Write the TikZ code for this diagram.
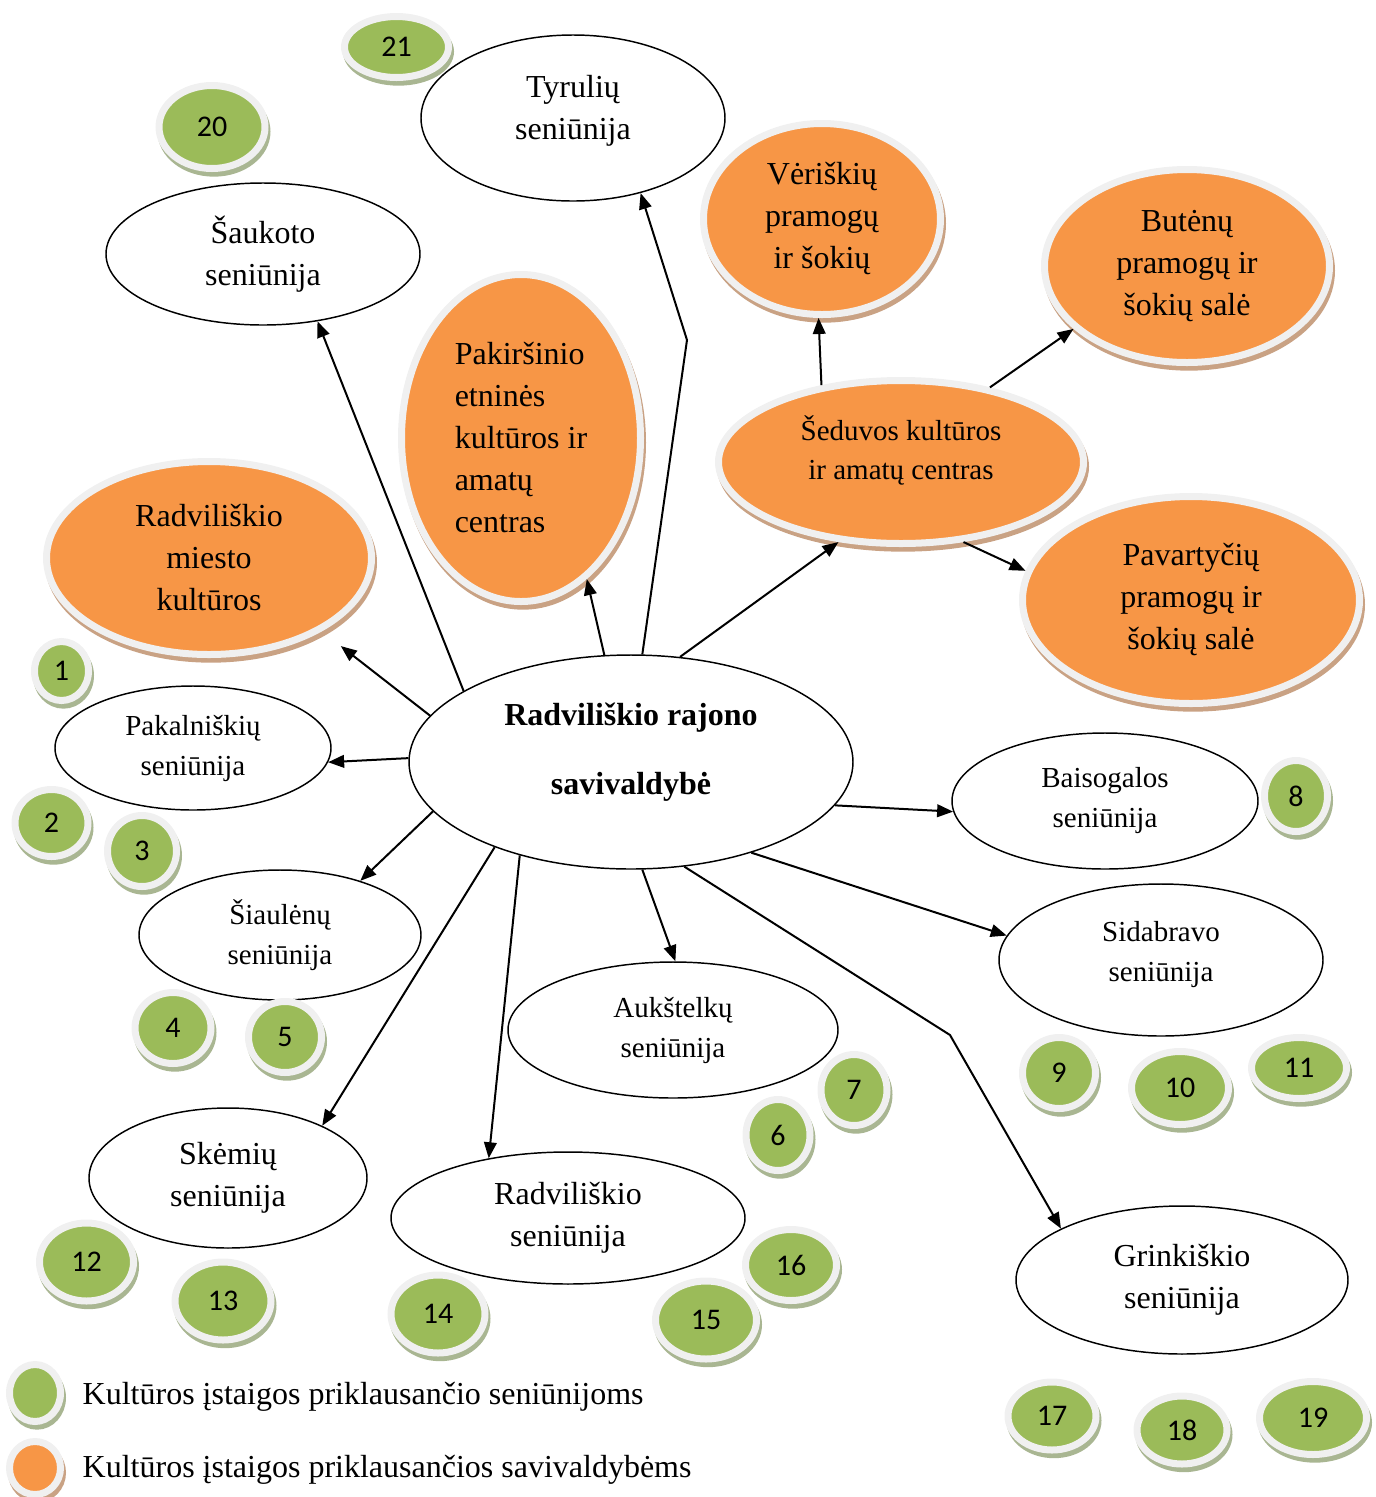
\documentclass[tikz,border=0pt]{standalone}
\usepackage{fontspec}
\setmainfont{Liberation Serif}
\newfontfamily\numfont{Carlito}
\usetikzlibrary{shapes.geometric,arrows.meta}
\definecolor{myorange}{HTML}{F79646}
\definecolor{mygreen}{HTML}{9BBB59}
\definecolor{ringgray}{HTML}{F0F0F0}
\definecolor{orshadow}{HTML}{C9A284}
\definecolor{grshadow}{HTML}{A9B692}
\tikzset{
  wr/.style 2 args={minimum width={#1*1.5pt}, minimum height={#2*1.5pt}},
  rr/.style 2 args={minimum width={(#1+3.5)*1.5pt}, minimum height={(#2+3.5)*1.5pt}},
  ringed/.style={draw=ringgray, line width=5.25pt,
    preaction={draw=#1, fill=#1, line width=5.25pt, transform canvas={xshift=1.5pt, yshift=-3.5pt}}},
  wellipse/.style={ellipse, draw=black, line width=1.1pt, fill=white, inner sep=0pt, align=center},
  oblob/.style={ellipse, inner sep=0pt, fill=myorange, ringed=orshadow, align=center},
  gblob/.style={ellipse, inner sep=0pt, fill=mygreen, ringed=grshadow, font={\numfont\fontsize{22.5}{26}\selectfont}},
  bigt/.style={font={\fontsize{24}{31.5}\selectfont}},
  smallt/.style={font={\fontsize{21.75}{30}\selectfont}},
  lbl/.style={align=center, inner sep=0pt},
  conn/.style={line width=1.5pt, -{Triangle[length=12pt,width=9.5pt]}},
}
\begin{document}
\begin{tikzpicture}[x=0.75pt,y=-0.75pt]
\useasboundingbox (0,0) rectangle (1376,1497);

% white ellipses
\node[wellipse, wr={152}{83}, label={[lbl, bigt, yshift=5.25pt]center:Tyrulių\\seniūnija}] (tyr) at (573,118) {};
\node[wellipse, wr={157}{71}, bigt] (sau) at (263,254) {Šaukoto\\seniūnija};
\node[wellipse, wr={138}{62}, smallt] (pak) at (193,748) {Pakalniškių\\seniūnija};
\node[wellipse, wr={141}{65}, smallt] (sia) at (280,935) {Šiaulėnų\\seniūnija};
\node[wellipse, wr={165}{68}, smallt] (auk) at (673,1030) {Aukštelkų\\seniūnija};
\node[wellipse, wr={139}{70}, bigt] (ske) at (228,1178) {Skėmių\\seniūnija};
\node[wellipse, wr={177}{66}, bigt] (rs) at (568,1218) {Radviliškio\\seniūnija};
\node[wellipse, wr={153}{68}, smallt] (bai) at (1105,801) {Baisogalos\\seniūnija};
\node[wellipse, wr={162}{76}, label={[lbl, smallt, yshift=4pt]center:Sidabravo\\seniūnija}] (sid) at (1161,960) {};
\node[wellipse, wr={166}{74}, bigt] (gri) at (1182,1280) {Grinkiškio\\seniūnija};
\node[wellipse, wr={222}{107}, label={[lbl, font={\bfseries\fontsize{24}{51.75}\selectfont}, yshift=7.5pt]center:Radviliškio rajono\\savivaldybė}] (c) at (631,762) {};

% orange ellipses
\node[oblob, rr={115}{92}, bigt] (ver) at (822,219) {Vėriškių\\pramogų\\ir šokių};
\node[oblob, rr={139}{93}, bigt] (but) at (1187,266) {Butėnų\\pramogų ir\\šokių salė};
\node[oblob, rr={179}{78}, label={[lbl, font={\fontsize{21.75}{29.25}\selectfont}, yshift=9pt]center:Šeduvos kultūros\\ir amatų centras}] (sed) at (901,462) {};
\node[oblob, rr={165}{100}, bigt] (pav) at (1191,600) {Pavartyčių\\pramogų ir\\šokių salė};
\node[oblob, rr={116}{160}, bigt, align=left] (pk) at (521,438) {Pakiršinio\\etninės\\kultūros ir\\amatų\\centras};
\node[oblob, rr={159}{93}, bigt] (rmk) at (209,558) {Radviliškio\\miesto\\kultūros};

% green circles
\node[gblob, rr={23.5}{26}] (g1) at (61.5,671) {1};
\node[gblob, rr={33}{30}] (g2) at (51.5,823) {2};
\node[gblob, rr={31}{32}] (g3) at (142,851) {3};
\node[gblob, rr={34.5}{32}] (g4) at (173,1028) {4};
\node[gblob, rr={33}{32}] (g5) at (285,1037) {5};
\node[gblob, rr={28.5}{32}] (g6) at (778,1135) {6};
\node[gblob, rr={29.5}{32}] (g7) at (854,1090) {7};
\node[gblob, rr={28}{32}] (g8) at (1296,796) {8};
\node[gblob, rr={33}{32}] (g9) at (1059,1073) {9};
\node[gblob, rr={45}{33}] (g10) at (1180,1088) {10};
\node[gblob, rr={44}{27}] (g11) at (1299,1068) {11};
\node[gblob, rr={43.5}{35.5}] (g12) at (86.5,1262) {12};
\node[gblob, rr={44.5}{35.5}] (g13) at (223,1301) {13};
\node[gblob, rr={43.5}{35.5}] (g14) at (438,1314) {14};
\node[gblob, rr={47}{35.5}] (g15) at (706,1320) {15};
\node[gblob, rr={42}{32}] (g16) at (791,1265) {16};
\node[gblob, rr={40.5}{30.5}] (g17) at (1052,1416) {17};
\node[gblob, rr={41.5}{30.5}] (g18) at (1182,1430) {18};
\node[gblob, rr={50}{33}] (g19) at (1313,1418) {19};
\node[gblob, rr={49.5}{38}] (g20) at (212,127) {20};
\node[gblob, rr={48.5}{27}] (g21) at (396.5,47) {21};

% legend
\node[gblob, rr={22}{25}] (lg) at (35,1393) {};
\node[oblob, rr={22}{23}] (lo) at (35,1468) {};
\node[bigt, anchor=west] (lgt) at (78,1397) {Kultūros įstaigos priklausančio seniūnijoms};
\node[bigt, anchor=west] (lot) at (78,1470) {Kultūros įstaigos priklausančios savivaldybėms};

% connectors
\coordinate (ktyr) at (687,340);
\coordinate (kgri) at (950,1035);
\draw[conn] (c.157.2) -- (sau.309);
\draw[conn, shorten >=18pt] (c.167.2) -- (rmk.327);
\draw[conn] (c.179.2) -- (pak.354.3);
\draw[conn] (c.194.8) -- (sia.34.4);
\draw[conn] (c.212.1) -- (ske.29.2);
\draw[conn] (c.220) -- (rs.143);
\draw[conn] (c.276.3) -- (auk.88.4);
\draw[conn] (c.297.8) -- (kgri) -- (gri.157);
\draw[conn] (c.323.2) -- (sid.171.3);
\draw[conn] (c.348.7) -- (bai.184.1);
\draw[conn] (c.65.2) -- (sed.232.9);
\draw[conn] (c.104.4) -- (pk.295.1);
\draw[conn] (c.84.3) -- (ktyr) -- (tyr.312.6);
\draw[conn] (sed.136.4) -- (ver.268.8);
\draw[conn] (sed.40.9) -- (but.209.7);
\draw[conn] (sed.308.2) -- (pav.170.6);
\end{tikzpicture}
\end{document}
